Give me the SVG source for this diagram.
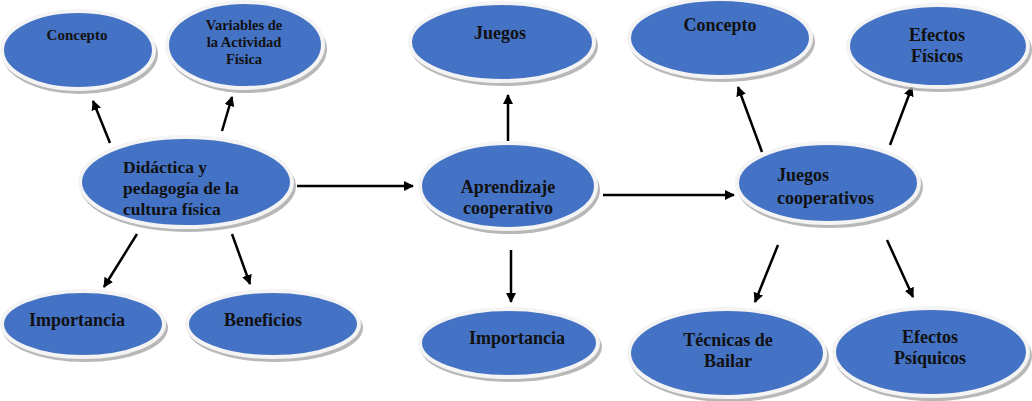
<svg xmlns="http://www.w3.org/2000/svg" width="1032" height="401" viewBox="0 0 1032 401">
<style>
.sh{fill:#a6a6a6;opacity:0.8}
.el{fill:#4472C4;stroke:#f4f4f4;stroke-width:4}
text{font-family:"Liberation Serif","Times New Roman",serif;font-weight:bold;fill:#111;font-size:18px}
.c{text-anchor:middle}
.con line{stroke:#000;stroke-width:2.5;marker-end:url(#ah)}
</style>
<defs>
<marker id="ah" viewBox="0 0 10 10" refX="9" refY="5" markerWidth="4" markerHeight="4" orient="auto" markerUnits="strokeWidth">
<path d="M0,0 L10,5 L0,10 z" fill="#000"/>
</marker>
</defs>
<rect width="1032" height="401" fill="#fff"/>
<g class="con">
<line x1="110" y1="143" x2="93" y2="101"/>
<line x1="222" y1="131" x2="232" y2="97"/>
<line x1="137" y1="234" x2="104" y2="287"/>
<line x1="232" y1="234" x2="250" y2="284"/>
<line x1="297" y1="186" x2="413" y2="186"/>
<line x1="508" y1="154" x2="508" y2="95"/>
<line x1="511" y1="250" x2="511" y2="302"/>
<line x1="603" y1="195" x2="734" y2="195"/>
<line x1="762" y1="152" x2="738" y2="87"/>
<line x1="890" y1="145" x2="912" y2="87"/>
<line x1="778" y1="245" x2="755" y2="302"/>
<line x1="887" y1="240" x2="913" y2="297"/>
</g>
<g id="n-concepto1">
<ellipse class="sh" cx="80" cy="54" rx="78" ry="40"/>
<ellipse class="el" cx="78" cy="50" rx="76" ry="39"/>
<text class="c" x="77" y="40" style="font-size:15px">Concepto</text>
</g>
<g id="n-variables">
<ellipse class="sh" cx="247" cy="49" rx="80" ry="44"/>
<ellipse class="el" cx="245" cy="45" rx="78" ry="43"/>
<text class="c" x="244" y="30" style="font-size:14.5px">Variables de</text>
<text class="c" x="244" y="47" style="font-size:14.5px">la Actividad</text>
<text class="c" x="244" y="64" style="font-size:14.5px">Física</text>
</g>
<g id="n-didactica">
<ellipse class="sh" cx="188" cy="186" rx="108" ry="46"/>
<ellipse class="el" cx="186" cy="182" rx="106" ry="45"/>
<text x="123" y="173" style="font-size:17.5px">Didáctica y</text>
<text x="123" y="194" style="font-size:17.5px">pedagogía de la</text>
<text x="123" y="215" style="font-size:17.5px">cultura física</text>
</g>
<g id="n-importancia1">
<ellipse class="sh" cx="85" cy="328" rx="83" ry="34"/>
<ellipse class="el" cx="83" cy="324" rx="81" ry="33"/>
<text class="c" x="77" y="326">Importancia</text>
</g>
<g id="n-beneficios">
<ellipse class="sh" cx="275" cy="328" rx="88" ry="34"/>
<ellipse class="el" cx="273" cy="324" rx="86" ry="33"/>
<text class="c" x="263" y="326">Beneficios</text>
</g>
<g id="n-juegos">
<ellipse class="sh" cx="504" cy="46" rx="94" ry="40"/>
<ellipse class="el" cx="502" cy="42" rx="92" ry="39"/>
<text class="c" x="500" y="39">Juegos</text>
</g>
<g id="n-aprendizaje">
<ellipse class="sh" cx="510" cy="190" rx="90" ry="44"/>
<ellipse class="el" cx="508" cy="186" rx="88" ry="43"/>
<text class="c" x="508" y="193">Aprendizaje</text>
<text class="c" x="508" y="214">cooperativo</text>
</g>
<g id="n-importancia2">
<ellipse class="sh" cx="511" cy="347" rx="91" ry="35"/>
<ellipse class="el" cx="509" cy="343" rx="89" ry="34"/>
<text class="c" x="517" y="344">Importancia</text>
</g>
<g id="n-concepto2">
<ellipse class="sh" cx="722" cy="42" rx="93" ry="40"/>
<ellipse class="el" cx="720" cy="38" rx="91" ry="39"/>
<text class="c" x="720" y="31">Concepto</text>
</g>
<g id="n-efectosfisicos">
<ellipse class="sh" cx="940" cy="50" rx="92" ry="42"/>
<ellipse class="el" cx="938" cy="46" rx="90" ry="41"/>
<text class="c" x="937" y="41">Efectos</text>
<text class="c" x="937" y="62">Físicos</text>
</g>
<g id="n-juegoscoop">
<ellipse class="sh" cx="830" cy="187" rx="93" ry="41"/>
<ellipse class="el" cx="828" cy="183" rx="91" ry="40"/>
<text x="777" y="181">Juegos</text>
<text x="777" y="204">cooperativos</text>
</g>
<g id="n-tecnicas">
<ellipse class="sh" cx="729" cy="357" rx="100" ry="45"/>
<ellipse class="el" cx="727" cy="353" rx="98" ry="44"/>
<text class="c" x="728" y="346">Técnicas de</text>
<text class="c" x="728" y="367">Bailar</text>
</g>
<g id="n-psiquicos">
<ellipse class="sh" cx="933" cy="356" rx="99" ry="45"/>
<ellipse class="el" cx="931" cy="352" rx="97" ry="44"/>
<text class="c" x="930" y="343">Efectos</text>
<text class="c" x="930" y="364">Psíquicos</text>
</g>
</svg>
